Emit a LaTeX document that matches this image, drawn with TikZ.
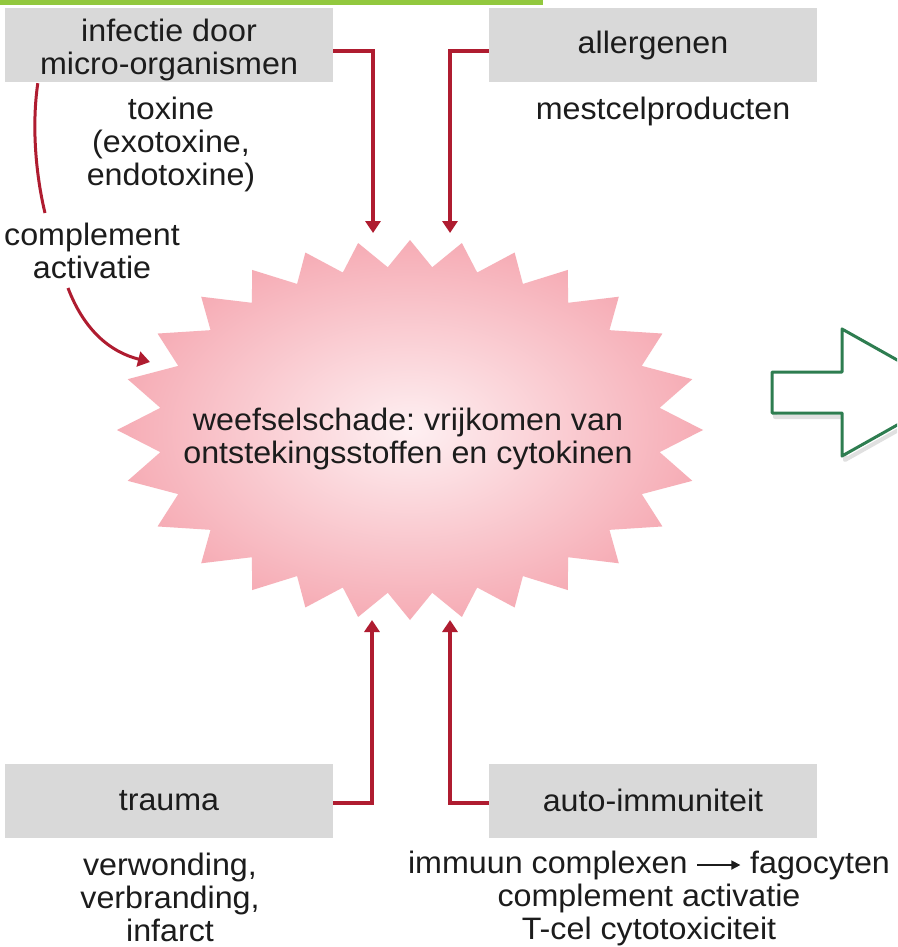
\documentclass[tikz,border=0pt]{standalone}
\usepackage{fontspec}
\setmainfont[FakeStretch=1.04]{Liberation Sans}
\usetikzlibrary{arrows.meta,calc}
\definecolor{boxgray}{RGB}{217,217,217}
\definecolor{arrred}{RGB}{175,28,48}
\definecolor{starin}{RGB}{254,240,242}
\definecolor{starout}{RGB}{246,172,181}
\definecolor{fwdgreen}{RGB}{46,125,80}
\definecolor{topgreen}{RGB}{146,200,62}
\definecolor{txt}{RGB}{28,28,28}
\frenchspacing
\begin{document}
\begin{tikzpicture}[x=1pt,y=-1pt,
  every node/.style={text=txt, font=\fontsize{31}{33}\selectfont, align=center, inner sep=0pt},
  srcbox/.style={fill=boxgray, minimum width=328pt, minimum height=74pt},
  redline/.style={draw=arrred, line width=3.5pt, -{Triangle[width=15pt,length=12pt]}},
  redcurve/.style={draw=arrred, line width=3pt},
  greenarrow/.style={draw=fwdgreen, line width=3pt, line join=round, fill=white}]
\useasboundingbox (0,0) rectangle (897,947);
\fill[white] (0,0) rectangle (897,947);
% top green bar
\fill[topgreen] (0,0) rectangle (543,5);
% central starburst
\shade[inner color=starin, outer color=starout]
  plot[domain=0:360, samples=57, variable=\u]
  ({410+(0.93+0.07*cos(28*\u))*293*cos(\u+6.13*sin(2*\u))},
   {430-(0.93+0.07*cos(28*\u))*190*sin(\u+6.13*sin(2*\u))}) -- cycle;
\node (dmg) at (408,439) {weefselschade: vrijkomen van\\ontstekingsstoffen en cytokinen};
% source boxes
\node[srcbox] (inf) at (169,45) {};
\node (infT) at (169,50) {infectie door\\micro-organismen};
\node[srcbox] (all) at (653,45) {allergenen};
\node[srcbox] (tra) at (169,800.5) {trauma};
\node[srcbox] (aut) at (653,800.5) {auto-immuniteit};
% sub labels
\node (tox) at (171,144) {toxine\\(exotoxine,\\endotoxine)};
\node (mest) at (663,111) {mestcelproducten};
\node (comp) at (92,251) {complement\\activatie};
\node (verw) at (170,897) {verwonding,\\verbranding,\\infarct};
\node (immu) at (649,898) {immuun complexen \tikz[baseline=-8pt]\draw[draw=txt, line width=1.6pt, -{Triangle[width=9pt,length=9pt]}] (0pt,0pt) -- (43pt,0pt); fagocyten\\complement activatie\\T-cel cytotoxiciteit};
% arrow tips at the starburst
\coordinate (tipA) at (373,233);
\coordinate (tipB) at (450,233);
\coordinate (tipC) at (372,620);
\coordinate (tipD) at (450,620);
\coordinate (cEnd) at (45,213);
\coordinate (cStart) at (68,288);
\coordinate (tipE) at (150,362);
% red connectors
\draw[redline] ($(inf.east)+(0,6)$) -| (tipA);
\draw[redline] ($(all.west)+(0,6)$) -| (tipB);
\draw[redline] ($(tra.east)+(0,2.5)$) -| (tipC);
\draw[redline] ($(aut.west)+(0,2.5)$) -| (tipD);
% complement activation curves
\draw[redcurve] ($(inf.south west)+(33,1)$) .. controls (31,130) and (37,180) .. (cEnd);
\draw[redcurve, -{Triangle[width=15pt,length=12pt]}] (cStart) .. controls (84,330) and (110,352) .. (tipE);
% green forward arrow (cut by the right edge)
\begin{scope}
\clip (0,0) rectangle (897,947);
\draw[black!12, line width=4pt, line join=round] (775,376) -- (845,376) -- (845,333) -- (958,396.5) -- (845,460) -- (845,417) -- (775,417) -- cycle;
\draw[greenarrow] (772,372) -- (842,372) -- (842,329) -- (955,392.5) -- (842,456) -- (842,413) -- (772,413) -- cycle;
\end{scope}
\end{tikzpicture}
\end{document}
